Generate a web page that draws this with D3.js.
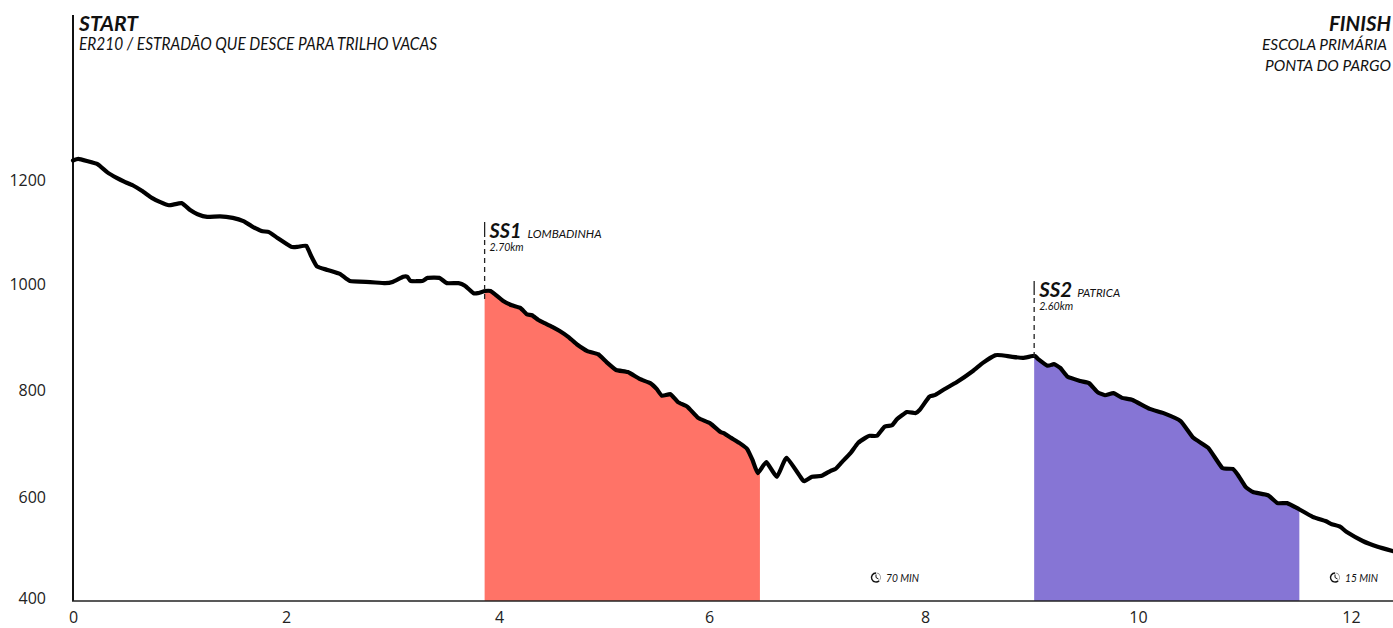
<!DOCTYPE html>
<html><head><meta charset="utf-8">
<script src="https://cdn.jsdelivr.net/npm/d3@7"></script>
<style>
html,body{margin:0;padding:0;background:#fff}
svg{display:block}
text{font-family:Lato,"Open Sans",sans-serif;fill:#111}
</style></head><body>
<svg id="c" width="1393" height="628"></svg>
<script>
const distanceKm = [0,.05,.13,.23,.32,.41,.49,.56,.65,.74,.82,.90,1.02,1.10,1.17,1.26,1.38,1.50,1.60,1.68,1.77,1.84,1.92,2.05,2.11,2.19,2.24,2.29,2.39,2.51,2.60,2.79,2.93,3.00,3.10,3.14,3.17,3.28,3.33,3.44,3.51,3.62,3.68,3.76,3.80,3.87,3.92,3.96,4.04,4.12,4.20,4.26,4.31,4.37,4.43,4.50,4.57,4.65,4.73,4.83,4.93,5.01,5.10,5.21,5.32,5.42,5.48,5.53,5.61,5.68,5.77,5.87,5.98,6.08,6.11,6.18,6.26,6.33,6.38,6.43,6.51,6.61,6.70,6.85,6.87,6.94,7.03,7.11,7.16,7.22,7.30,7.37,7.44,7.48,7.55,7.62,7.69,7.74,7.83,7.91,7.95,8.04,8.09,8.17,8.30,8.45,8.54,8.66,8.72,8.82,8.92,9.03,9.06,9.15,9.21,9.27,9.34,9.46,9.54,9.62,9.69,9.77,9.85,9.95,10.11,10.24,10.40,10.52,10.66,10.79,10.89,10.94,11.01,11.08,11.22,11.31,11.40,11.49,11.64,11.76,11.82,11.90,11.96,12.11,12.25,12.39];
const elevationM = [1237,1240,1236,1230,1215,1204,1196,1190,1179,1166,1158,1152,1156,1143,1135,1130,1131,1128,1122,1112,1103,1101,1090,1073,1073,1075,1054,1036,1029,1021,1008,1006,1004,1006,1016,1016,1008,1008,1014,1014,1004,1004,999,985,985,989,989,983,970,962,957,945,943,934,928,921,913,902,888,875,869,854,839,835,822,814,803,790,793,778,769,748,738,721,719,710,700,689,668,643,664,636,672,630,628,636,638,647,651,664,681,700,710,714,714,731,734,746,759,757,763,788,791,801,816,837,852,867,867,864,862,866,860,847,850,843,826,818,814,797,791,795,786,782,765,757,742,710,691,653,651,639,617,607,601,586,586,577,560,552,546,541,531,514,503,495];
const xTicks = [0,2,4,6,8,10,12];
const yTicks = [400,600,800,1000,1200];
const stageNames = ["SS1","SS2"];
const stagePlaces = ["LOMBADINHA","PATRICA"];
const stageLengths = ["2.70km","2.60km"];
const stageStartKm = [3.865,9.025];
const stageEndKm = [6.45,11.515];
const stageColors = ["#ff7367","#8675d5"];
const timeLabels = ["70 MIN","15 MIN"];
const timeKm = [7.54,11.85];

const svg = d3.select("#c");
const x = d3.scaleLinear().domain([0,12]).range([73,1351]);
const y = d3.scaleLinear().domain([400,1200]).range([601,180]);
const pts = distanceKm.map((d,i)=>[d,elevationM[i]]);
const curve = d3.curveCardinal.tension(0.6);

// filled special stages
const defs = svg.append("defs");
stageNames.forEach((n,i)=>{
  defs.append("clipPath").attr("id","clip"+i).append("rect")
    .attr("x",x(stageStartKm[i])).attr("width",x(stageEndKm[i])-x(stageStartKm[i]))
    .attr("y",0).attr("height",y(400));
  svg.append("path").datum(pts)
    .attr("clip-path",`url(#clip${i})`)
    .attr("fill",stageColors[i])
    .attr("d",d3.area().curve(curve).x(d=>x(d[0])).y0(y(400)).y1(d=>y(d[1])));
});

// axes
const gx = svg.append("g").attr("transform",`translate(0,${y(400)})`)
  .call(d3.axisBottom(x).tickValues(xTicks).tickSize(0).tickPadding(11).tickFormat(d3.format("d")));
gx.select(".domain").remove();
gx.selectAll("text").attr("font-size",16).style("font-family",'"Open Sans",sans-serif').style("fill","#222");
gx.selectAll(".tick").filter(d=>d===6).select("text").attr("dx",-3);
const gy = svg.append("g").attr("transform",`translate(73,0)`)
  .call(d3.axisLeft(y).tickValues(yTicks).tickSize(0).tickPadding(27).tickFormat(d3.format("d")));
gy.select(".domain").remove();
gy.selectAll("text").attr("font-size",16).style("font-family",'"Open Sans",sans-serif').style("fill","#222");
gy.selectAll(".tick").filter(d=>d===400).select("text").attr("dy","0.15em");
gy.selectAll(".tick").filter(d=>d===600).select("text").attr("dy","0.44em");
gy.selectAll(".tick").filter(d=>d===1000).select("text").attr("dy","0.26em");
svg.append("line").attr("x1",73).attr("x2",73).attr("y1",15).attr("y2",y(400)).attr("stroke","#111").attr("stroke-width",2);
svg.append("line").attr("x1",72).attr("x2",1393).attr("y1",y(400)).attr("y2",y(400)).attr("stroke","#222").attr("stroke-width",1.5);

// elevation line
svg.append("path").datum(pts).attr("fill","none").attr("stroke","#000").attr("stroke-width",4.2)
  .attr("stroke-linejoin","round").attr("stroke-linecap","round")
  .attr("d",d3.line().curve(curve).x(d=>x(d[0])).y(d=>y(d[1])));

function label(tx,ty,s,size,weight,len){
  const t = svg.append("text").attr("x",tx).attr("y",ty).text(s)
    .attr("font-size",size).attr("font-weight",weight).attr("font-style","italic");
  if(len) t.attr("textLength",len).attr("lengthAdjust","spacingAndGlyphs");
  return t;
}
// stage markers
const markerTop = [222,281], markerBot=[300,360];
const solidLen=[15,14];
const nameLen=[32,33], placeLen=[74,43], lenLen=[34,34];
stageNames.forEach((n,i)=>{
  const mx = x(stageStartKm[i]);
  svg.append("line").attr("x1",mx).attr("x2",mx).attr("y1",markerTop[i]).attr("y2",markerTop[i]+solidLen[i]).attr("stroke","#222").attr("stroke-width",1.3);
  svg.append("line").attr("x1",mx).attr("x2",mx).attr("y1",markerTop[i]+solidLen[i]+3).attr("y2",markerBot[i]).attr("stroke","#222").attr("stroke-width",1.3).attr("stroke-dasharray","5 4");
  label(mx+5,markerTop[i]+16,n,21,700,nameLen[i]);
  label(mx+43,markerTop[i]+15.5,stagePlaces[i],11.5,400,placeLen[i]);
  label(mx+5,markerTop[i]+29,stageLengths[i],10.5,400,lenLen[i]);
});

// start / finish
label(79,30.5,"START",20,700,59);
label(79,50,"ER210 / ESTRADÃO QUE DESCE PARA TRILHO VACAS",17,400,358);
label(1329,30.5,"FINISH",20,700,62);
label(1262,50,"ESCOLA PRIMÁRIA",15.5,400,125);
label(1265,71,"PONTA DO PARGO",15.5,400,126);

// duration clocks
const arc = d3.arc();
timeLabels.forEach((s,i)=>{
  const cx = x(timeKm[i]), cy = 577.5;
  const g = svg.append("g").attr("transform",`translate(${cx},${cy})`);
  g.append("path").attr("d",arc({innerRadius:3.8,outerRadius:5.2,startAngle:0,endAngle:-Math.PI*1.25})).attr("fill","#111");
  g.append("path").attr("d",d3.arc()({innerRadius:4.2,outerRadius:4.9,startAngle:0.1,endAngle:Math.PI*0.7})).attr("fill","#555").attr("opacity",.7);
  g.append("path").attr("d","M0,-3 V0 L2.5,1.5").attr("fill","none").attr("stroke","#111").attr("stroke-width",1);
  label(cx+10,cy+4,s,11,400,33);
});
</script>
</body></html>
